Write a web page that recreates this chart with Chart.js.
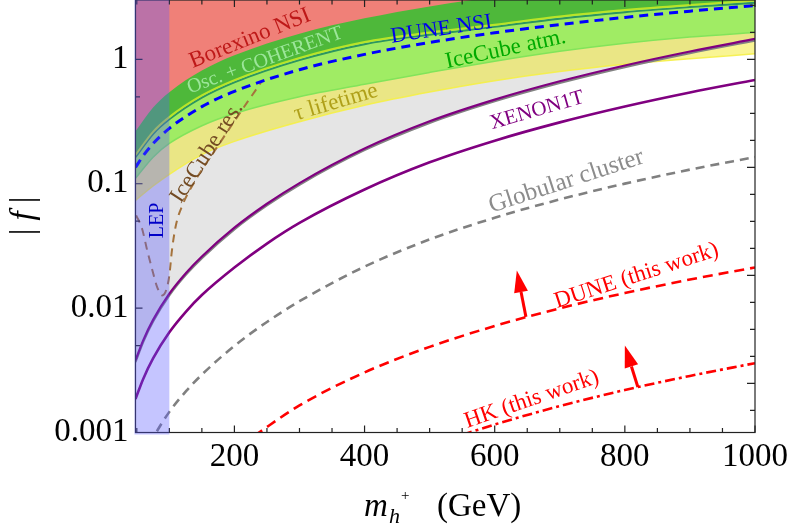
<!DOCTYPE html>
<html>
<head>
<meta charset="utf-8">
<style>
  html, body { margin: 0; padding: 0; background: #fff; }
  canvas { display: block; }
</style>
</head>
<body>
<canvas id="c" width="791" height="528"></canvas>
<script src="https://cdn.jsdelivr.net/npm/chart.js"></script>
<script>
// Charged-scalar coupling |f| versus mass m_h+ (GeV): excluded regions and sensitivities.

// Borexino NSI (excluded above)
const mBorexino = [48, 75, 100, 150, 200, 300, 400, 500, 600];
const fBorexino = [0.2636, 0.4098, 0.5441, 0.812, 1.078, 1.609, 2.138, 2.665, 3.189];
// Oscillation + COHERENT (excluded above)
const mOscCoh = [48, 75, 100, 150, 200, 300, 400, 500, 600, 700, 800, 900, 1000];
const fOscCoh = [0.1702, 0.2615, 0.3433, 0.5123, 0.6804, 1.027, 1.38, 1.643, 1.9, 2.212, 2.495, 2.739, 2.97];
// DUNE NSI sensitivity
const mDuneNsi = [48, 60, 75, 100, 150, 200, 300, 400, 500, 600, 700, 800, 900, 1000];
const fDuneNsi = [0.1352, 0.1685, 0.2101, 0.279, 0.4164, 0.5529, 0.8252, 1.096, 1.366, 1.636, 1.905, 2.173, 2.441, 2.708];
// IceCube atmospheric (excluded above)
const mIceAtm = [48, 75, 100, 150, 200, 300, 400, 500, 600, 700, 800, 900, 1000];
const fIceAtm = [0.1104, 0.1635, 0.2109, 0.2928, 0.3673, 0.5012, 0.631, 0.7852, 0.966, 1.1614, 1.349, 1.514, 1.644];
// tau lifetime (excluded above)
const mTau = [48, 75, 100, 150, 200, 300, 400, 500, 600, 700, 800, 900, 1000];
const fTau = [0.0735, 0.0959, 0.1191, 0.1716, 0.2191, 0.3155, 0.4271, 0.5458, 0.6731, 0.7975, 0.9113, 1.0132, 1.108];
// upper purple curve bounding the grey region
const mGreyEdge = [48, 60, 75, 100, 126, 150, 200, 250, 300, 400, 500, 600, 700, 800, 900, 1000];
const fGreyEdge = [0.0038, 0.00553, 0.00804, 0.01305, 0.01925, 0.026, 0.0443, 0.069, 0.1012, 0.1919, 0.3177, 0.4746, 0.666, 0.893, 1.157, 1.459];
// XENON1T
const mXenon = [48, 60, 75, 100, 126, 150, 200, 250, 300, 400, 500, 600, 700, 800, 900, 1000];
const fXenon = [0.001862, 0.00271, 0.003942, 0.006392, 0.009425, 0.01274, 0.0212, 0.03303, 0.04843, 0.0898, 0.1486, 0.2219, 0.3114, 0.4178, 0.5414, 0.683];
// Globular cluster
const mGlobular = [60, 75, 100, 126, 150, 200, 250, 300, 400, 500, 600, 700, 800, 900, 1000];
const fGlobular = [0.000621, 0.000902, 0.001465, 0.00216, 0.00292, 0.00497, 0.00774, 0.01136, 0.02154, 0.03566, 0.05327, 0.07475, 0.1002, 0.1299, 0.1637];
// IceCube resonance
const mIceRes = [49, 58, 66, 74, 81, 89, 95, 100, 104, 110, 120, 140, 170, 209, 243];
const fIceRes = [0.0556, 0.0437, 0.0291, 0.0201, 0.0149, 0.01265, 0.01387, 0.01833, 0.0291, 0.0462, 0.067, 0.1064, 0.1854, 0.374, 0.677];
// DUNE (this work)
const mDune = [230, 300, 400, 500, 600, 700, 800, 900, 1000];
const fDune = [0.000938, 0.00165, 0.00304, 0.00488, 0.00718, 0.00996, 0.01322, 0.01697, 0.02123];
// HK (this work)
const mHK = [550, 600, 700, 800, 900, 1000];
const fHK = [0.000956, 0.00116, 0.00163, 0.002196, 0.00285, 0.00361];
// LEP lower mass bound
const lepEdge = 100;
// sensitivity arrows: base on the curve, tip above
const arrowBaseM = [648, 820];
const arrowBaseF = [0.0085, 0.00232];
const arrowTipM = [634, 800];
const arrowTipF = [0.0201, 0.00501];

// axis ticks
const xTickValues = [200, 400, 600, 800, 1000];
const yTickValues = [0.001, 0.01, 0.1, 1];
const yTickLabels = ['0.001', '0.01', '0.1', '1'];
const yMinorTicks = [0.005, 0.05, 0.5];

const SERIF = '"Liberation Serif", "Times New Roman", serif';

function series(ms, fs) {
  return ms.map((m, i) => ({ x: m, y: fs[i] }));
}

const bandBase = { pointRadius: 0, cubicInterpolationMode: 'monotone', fill: 'end' };
const lineBase = { pointRadius: 0, cubicInterpolationMode: 'monotone', fill: false };

const datasets = [
  Object.assign({}, bandBase, { label: 'grey', data: series(mGreyEdge, fGreyEdge), backgroundColor: 'rgb(229,229,229)', borderWidth: 0, order: 20 }),
  Object.assign({}, bandBase, { label: 'tau', data: series(mTau, fTau), backgroundColor: 'rgba(240,230,0,0.42)', borderColor: 'rgba(245,240,70,0.9)', borderWidth: 1.5, order: 19 }),
  Object.assign({}, bandBase, { label: 'iceatm', data: series(mIceAtm, fIceAtm), backgroundColor: 'rgb(160,236,100)', borderColor: 'rgb(130,228,90)', borderWidth: 1.5, order: 18 }),
  Object.assign({}, bandBase, { label: 'osccoh', data: series(mOscCoh, fOscCoh), backgroundColor: 'rgb(78,184,58)', borderColor: 'rgb(185,228,40)', borderWidth: 2, shadowColor: 'rgb(45,150,95)', shadowOffset: 2.2, order: 17 }),
  Object.assign({}, bandBase, { label: 'borexino', data: series(mBorexino, fBorexino), backgroundColor: 'rgb(240,128,120)', borderWidth: 0, order: 16 }),
  Object.assign({}, lineBase, { label: 'greyedge', data: series(mGreyEdge, fGreyEdge), borderColor: 'rgb(128,0,128)', borderWidth: 2.2, shadowColor: 'rgb(130,130,130)', shadowOffset: 1.6, order: 12 }),
  Object.assign({}, lineBase, { label: 'xenon', data: series(mXenon, fXenon), borderColor: 'rgb(128,0,128)', borderWidth: 2.6, order: 11 }),
  Object.assign({}, lineBase, { label: 'globular', data: series(mGlobular, fGlobular), borderColor: 'rgb(128,128,128)', borderWidth: 2.6, borderDash: [9, 6], order: 10 }),
  Object.assign({}, lineBase, { label: 'iceres', data: series(mIceRes, fIceRes), borderColor: 'rgb(165,115,60)', borderWidth: 2, borderDash: [8, 6], order: 9 }),
  Object.assign({}, lineBase, { label: 'dunensi', data: series(mDuneNsi, fDuneNsi), borderColor: 'rgb(0,0,255)', borderWidth: 3, borderDash: [9, 6], order: 8 }),
  Object.assign({}, lineBase, { label: 'dune', data: series(mDune, fDune), borderColor: 'rgb(255,0,0)', borderWidth: 2.6, borderDash: [10, 6], order: 7 }),
  Object.assign({}, lineBase, { label: 'hk', data: series(mHK, fHK), borderColor: 'rgb(255,0,0)', borderWidth: 2.6, borderDash: [10, 4, 3, 4], order: 6 })
];

// text annotations placed in data coordinates
const annotations = [
  { text: 'Borexino NSI', x: 224, y: 1.472, rot: -22, color: 'rgb(190,25,25)', size: 23 },
  { text: 'Osc. + COHERENT', x: 247, y: 0.98, rot: -20, color: 'rgba(165,235,165,0.9)', size: 20 },
  { text: 'DUNE NSI', x: 518, y: 1.74, rot: -8.5, color: 'rgb(0,0,235)', size: 22 },
  { text: 'IceCube atm.', x: 617, y: 1.2, rot: -12, color: 'rgb(0,170,0)', size: 23 },
  { text: 'τ lifetime', x: 356, y: 0.45, rot: -16.5, color: 'rgb(175,160,25)', size: 23 },
  { text: 'XENON1T', x: 665, y: 0.388, rot: -16, color: 'rgb(128,0,128)', size: 21 },
  { text: 'Globular cluster', x: 710, y: 0.1043, rot: -18, color: 'rgb(140,140,140)', size: 25 },
  { text: 'DUNE (this work)', x: 818, y: 0.01815, rot: -18, color: 'rgb(255,0,0)', size: 23 },
  { text: 'HK (this work)', x: 657, y: 0.001845, rot: -19, color: 'rgb(255,0,0)', size: 23 },
  { text: 'IceCube res.', x: 158, y: 0.1785, rot: -57, color: 'rgb(115,75,35)', size: 23 },
  { text: 'LEP', x: 82, y: 0.0507, rot: -90, color: 'rgb(0,0,200)', size: 20 }
];

// offset shadow under selected curves (grey under the purple edge, teal under the green edge)
const lineShadow = {
  id: 'lineShadow',
  beforeDatasetDraw(chart, args) {
    const ds = chart.data.datasets[args.index];
    if (ds.shadowColor) {
      const c = chart.ctx;
      c.save();
      c.shadowColor = ds.shadowColor;
      c.shadowOffsetX = 0;
      c.shadowOffsetY = ds.shadowOffset;
      c.shadowBlur = 0;
    }
  },
  afterDatasetDraw(chart, args) {
    if (chart.data.datasets[args.index].shadowColor) chart.ctx.restore();
  }
};

// frame with inward ticks, then the translucent LEP band on top
const frameAndLep = {
  id: 'frameAndLep',
  afterDatasetsDraw(chart) {
    const { ctx, chartArea: a, scales: { x, y } } = chart;
    ctx.save();
    ctx.strokeStyle = '#222';
    ctx.lineWidth = 1.2;
    ctx.beginPath();
    for (let m = 50; m <= 1000; m += 50) {
      const px = x.getPixelForValue(m);
      const len = m % 200 === 0 ? 7 : 4.5;
      ctx.moveTo(px, a.bottom); ctx.lineTo(px, a.bottom - len);
      ctx.moveTo(px, a.top); ctx.lineTo(px, a.top + len);
    }
    yTickValues.concat(yMinorTicks).forEach(v => {
      const py = y.getPixelForValue(v);
      const len = yTickValues.includes(v) ? 7 : 4.5;
      ctx.moveTo(a.left, py); ctx.lineTo(a.left + len, py);
    });
    for (let k = -16; k <= 3; k++) {
      const v = Math.exp(k / 2);
      if (v < y.min || v > y.max) continue;
      const py = y.getPixelForValue(v);
      const len = k % 4 === 0 ? 8 : 5;
      ctx.moveTo(a.right, py); ctx.lineTo(a.right - len, py);
    }
    ctx.stroke();
    ctx.strokeRect(a.left, a.top, a.right - a.left, a.bottom - a.top);

    const l0 = x.getPixelForValue(x.min) - 1;
    const l1 = x.getPixelForValue(lepEdge);
    ctx.fillStyle = 'rgba(90,90,255,0.35)';
    ctx.fillRect(l0, a.top, l1 - l0, a.bottom - a.top + 2);
    ctx.restore();
  }
};

// labels, arrows and axis titles
const overlay = {
  id: 'overlay',
  afterDraw(chart) {
    const { ctx, scales: { x, y } } = chart;
    ctx.save();
    ctx.textAlign = 'center';
    ctx.textBaseline = 'middle';
    annotations.forEach(t => {
      ctx.save();
      ctx.translate(x.getPixelForValue(t.x), y.getPixelForValue(t.y));
      ctx.rotate(t.rot * Math.PI / 180);
      ctx.font = t.size + 'px ' + SERIF;
      ctx.fillStyle = t.color;
      ctx.fillText(t.text, 0, 0);
      ctx.restore();
    });

    ctx.strokeStyle = 'rgb(255,0,0)';
    ctx.fillStyle = 'rgb(255,0,0)';
    arrowBaseM.forEach((m, i) => {
      const x0 = x.getPixelForValue(m), y0 = y.getPixelForValue(arrowBaseF[i]);
      const x1 = x.getPixelForValue(arrowTipM[i]), y1 = y.getPixelForValue(arrowTipF[i]);
      const ang = Math.atan2(y1 - y0, x1 - x0);
      const head = 22, half = 7;
      const hx = x1 - head * Math.cos(ang), hy = y1 - head * Math.sin(ang);
      ctx.lineWidth = 3;
      ctx.beginPath(); ctx.moveTo(x0, y0); ctx.lineTo(hx, hy); ctx.stroke();
      ctx.beginPath();
      ctx.moveTo(x1, y1);
      ctx.lineTo(hx + half * Math.sin(ang), hy - half * Math.cos(ang));
      ctx.lineTo(hx - half * Math.sin(ang), hy + half * Math.cos(ang));
      ctx.closePath(); ctx.fill();
    });

    // x-axis title: m_{h+} (GeV)
    ctx.fillStyle = '#000';
    ctx.textAlign = 'left';
    ctx.textBaseline = 'alphabetic';
    ctx.font = 'italic 33px ' + SERIF; ctx.fillText('m', 364, 516);
    ctx.font = 'italic 22px ' + SERIF; ctx.fillText('h', 389, 523);
    ctx.font = '15px ' + SERIF; ctx.fillText('+', 401, 500);
    ctx.font = '33px ' + SERIF; ctx.fillText('(GeV)', 437, 516);

    // y-axis title: |f|
    ctx.save();
    ctx.translate(33, 232);
    ctx.rotate(-Math.PI / 2);
    ctx.textAlign = 'center';
    ctx.font = '33px ' + SERIF; ctx.fillText('|', 0, 0); ctx.fillText('|', 32, 0);
    ctx.font = 'italic 33px ' + SERIF; ctx.fillText('f', 16, 0);
    ctx.restore();
    ctx.restore();
  }
};

new Chart(document.getElementById('c'), {
  type: 'line',
  data: { datasets },
  options: {
    responsive: false,
    devicePixelRatio: 1,
    animation: false,
    events: [],
    layout: { padding: { left: 0, right: 36, top: 0, bottom: 0 } },
    plugins: { legend: { display: false }, tooltip: { enabled: false } },
    scales: {
      x: {
        type: 'linear', min: 48, max: 1000,
        grid: { display: false, drawTicks: false },
        border: { display: false },
        afterBuildTicks: s => { s.ticks = xTickValues.map(v => ({ value: v })); },
        afterFit: s => { s.height = 95.5; s.paddingLeft = 0; s.paddingRight = 0; },
        ticks: { autoSkip: false, maxRotation: 0, padding: 5, color: '#000', font: { family: SERIF, size: 33 }, callback: v => String(v) }
      },
      y: {
        type: 'logarithmic', min: 0.001, max: 3,
        grid: { display: false, drawTicks: false },
        border: { display: false },
        afterBuildTicks: s => { s.ticks = yTickValues.map(v => ({ value: v })); },
        afterFit: s => { s.width = 135.5; s.paddingTop = 0; s.paddingBottom = 0; },
        ticks: { autoSkip: false, padding: 7, color: '#000', font: { family: SERIF, size: 33 },
          callback: v => { const i = yTickValues.indexOf(v); return i >= 0 ? yTickLabels[i] : ''; } }
      }
    }
  },
  plugins: [lineShadow, frameAndLep, overlay]
});
</script>
</body>
</html>
